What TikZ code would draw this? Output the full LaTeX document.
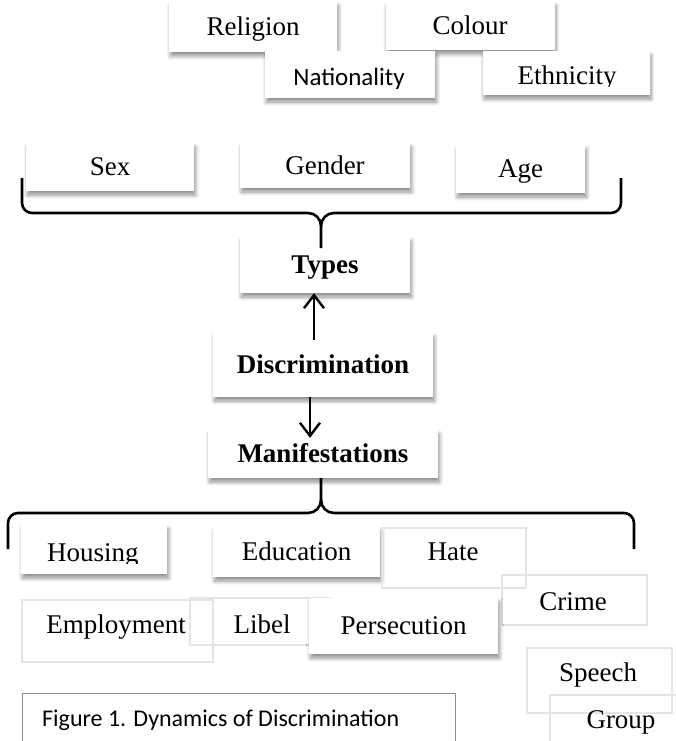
\documentclass[tikz,border=0pt]{standalone}
\usepackage{fontspec}
\setmainfont{Liberation Serif}
\newfontfamily\calibri{Carlito}
\usetikzlibrary{arrows.meta,shadows.blur}

\tikzset{
  word/.style={inner sep=0pt, text height=21.6pt, text depth=3.8pt, font=\fontsize{27}{32}\selectfont},
  tbox/.style={word, fill=white,
    blur shadow={shadow xshift=1.5pt, shadow yshift=-4pt, shadow blur radius=4pt, shadow blur steps=8, shadow opacity=45}},
  hbox/.style={tbox, font=\fontsize{27}{32}\selectfont\bfseries},
  ghost/.style={draw=black!10, line width=1.4pt},
  brace/.style={line width=2.6pt},
  arr/.style={line width=2.4pt, -{Straight Barb[length=13pt,width=20pt,line width=2.4pt]}}
}

\begin{document}
\begin{tikzpicture}[x=1pt, y=-1pt]
\useasboundingbox (0,0) rectangle (676,741);

% Kinds
\node[tbox, minimum width=168pt, minimum height=50pt] (religion) at (253,27) {Religion};
\node[tbox, minimum width=169pt, minimum height=48pt] (colour) at (470,26) {Colour};
\node[tbox, minimum width=170pt, minimum height=47pt] (nationality) at (350,74.5) {};
\node[tbox, minimum width=167pt, minimum height=44pt] (ethnicity) at (566,73) {};
\begin{scope}
\clip (265,51) rectangle (435,89);
\node[word, font=\calibri\fontsize{25}{30}\selectfont, anchor=base, text height=, text depth=] (nationalitytext) at (349,86) {Nationality};
\end{scope}
\begin{scope}
\clip (483,51) rectangle (650,87);
\node[word, anchor=base, text height=, text depth=] (ethnicitytext) at (567,84.5) {Ethnicity};
\end{scope}
\node[tbox, minimum width=168pt, minimum height=48pt] (sex) at (110,167) {Sex};
\node[tbox, minimum width=170pt, minimum height=45pt] (gender) at (325,165.5) {Gender};
\node[tbox, minimum width=129pt, minimum height=48pt] (age) at (520.5,169) {Age};

% Middle
\node[hbox, minimum width=170pt, minimum height=56pt] (types) at (325,265) {Types};
\node[hbox, minimum width=220pt, minimum height=64pt] (discrimination) at (323,365) {Discrimination};
\node[hbox, minimum width=230pt, minimum height=48pt] (manifestations) at (323,454) {Manifestations};

% Forms
\node[tbox, minimum width=146pt, minimum height=49pt] (housing) at (94,549.5) {};
\begin{scope}
\clip (21,525) rectangle (167,563);
\node[word, anchor=base, text height=, text depth=] (housingtext) at (93,561) {Housing};
\end{scope}
\node[tbox, minimum width=167pt, minimum height=50pt] (education) at (296.5,552) {Education};
\draw[ghost] (382,528) rectangle (526,588);
\draw[ghost] (502,575) rectangle (647,625);
\draw[ghost] (22,600) rectangle (213,662);
\draw[ghost] (190,598) rectangle (330,645);
\draw[ghost] (527,648) rectangle (672,713);
\draw[ghost] (550,695) rectangle (700,760);
\node[tbox, minimum width=189pt, minimum height=56pt] (persecution) at (403.5,626) {Persecution};
\node[word] (hate) at (453,552) {Hate};
\node[word] (crime) at (573,602) {Crime};
\node[word] (employment) at (116,625) {Employment};
\node[word] (libel) at (262,625) {Libel};
\node[word] (speech) at (598,673) {Speech};
\node[word] (group) at (621,720) {Group};

% Caption
\draw[draw=black!45, line width=1pt] (22,693) rectangle (455,770);
\node[anchor=west, inner sep=0pt, font=\calibri\fontsize{24}{29}\selectfont] (caption) at (42,720) {Figure 1. Dynamics of Discrimination};

% Braces
\coordinate (tl) at (22,178);
\coordinate (tr) at (621,178);
\coordinate (tm) at (321,248);
\draw[brace] (tl) -- (22,203) to[out=-90,in=180] (32,213) -- (308,213) to[out=0,in=90] (321,226) -- (tm);
\draw[brace] (tr) -- (621,203) to[out=-90,in=0] (611,213) -- (334,213) to[out=180,in=90] (321,226);
\coordinate (bm) at (321,478);
\coordinate (bl) at (8,549);
\coordinate (br) at (634,549);
\draw[brace] (bm) -- (321,500) to[out=-90,in=0] (308,513) -- (18,513) to[out=180,in=90] (8,523) -- (bl);
\draw[brace] (321,500) to[out=-90,in=180] (334,513) -- (624,513) to[out=0,in=90] (634,523) -- (br);

% Arrows
\draw[arr] ([xshift=-9pt,yshift=-7pt]discrimination.north) -- ([xshift=-11pt]types.south);
\draw[arr] ([xshift=-13pt]discrimination.south) -- ([xshift=-13pt,yshift=-8pt]manifestations.north);
\end{tikzpicture}
\end{document}
